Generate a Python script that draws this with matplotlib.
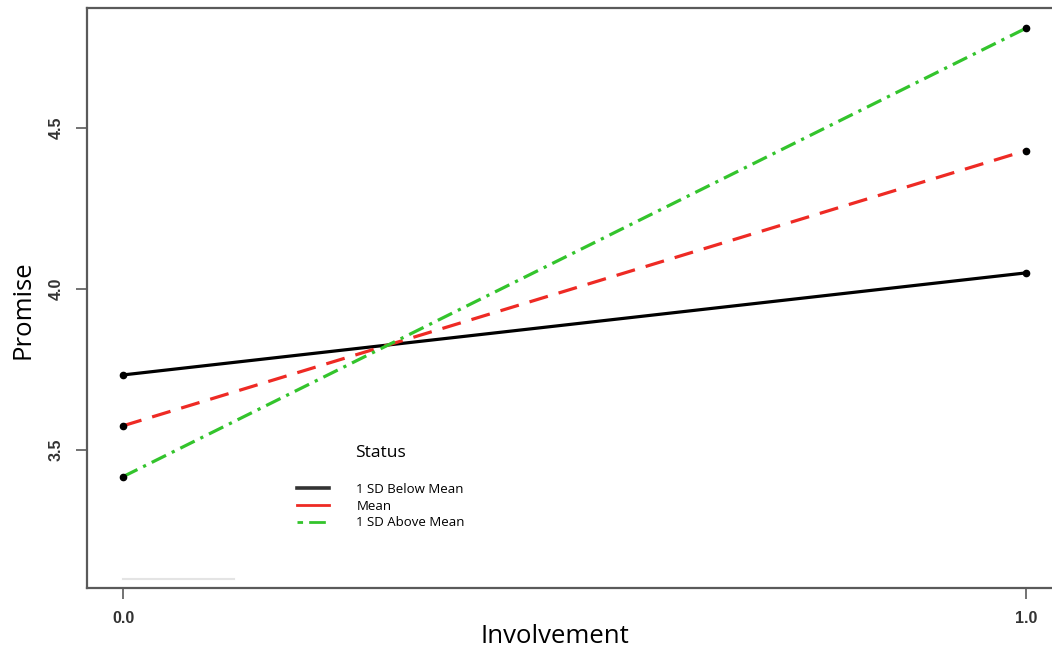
import matplotlib
matplotlib.use("Agg")
import matplotlib.pyplot as plt
from matplotlib.lines import Line2D

# simple slopes of Promise on Involvement at three levels of Status
involvement = [0.0, 1.0]
below_mean = [3.733, 4.050]
mean_level = [3.575, 4.430]
above_mean = [3.417, 4.810]
series_labels = ["1 SD Below Mean", "Mean", "1 SD Above Mean"]
x_ticks = [0.0, 1.0]
y_ticks = [3.5, 4.0, 4.5]

W, H = 1052, 656
fig = plt.figure(figsize=(W / 100, H / 100), dpi=100)
ax = fig.add_axes([87 / W, 68 / H, (1062 - 87) / W, (588 - 8) / H])

styles = [
    dict(color="black", linestyle="-"),
    dict(color="#ee2a24", linestyle=(0, (6, 3.5))),
    dict(color="#33c42c", linestyle=(0, (5, 2, 1, 2))),
]
for ys, st in zip([below_mean, mean_level, above_mean], styles):
    ax.plot(involvement, ys, linewidth=2.3, **st)
    ax.plot(involvement, ys, "o", color="black", markersize=4.5)

ax.set_xlim(-0.04, 1.04)
ax.set_ylim(3.071, 4.873)

# faint stray rule near the bottom edge
ax.plot([0.0, 0.123], [3.10, 3.10], color="#e4e4e4", linewidth=1.5)

for sp in ax.spines.values():
    sp.set_color("#5a5a5a")
    sp.set_linewidth(1.6)

tick_font = dict(fontsize=11.5, fontweight="bold", family="Liberation Sans", color="#333333")
ax.set_xticks(x_ticks)
ax.set_xticklabels([f"{v:.1f}" for v in x_ticks], **tick_font)
ax.set_yticks(y_ticks)
ax.set_yticklabels([f"{v:.1f}" for v in y_ticks], rotation=90, va="center", **tick_font)
ax.tick_params(axis="x", length=8, width=1.2, color="#5a5a5a", pad=8.5)
ax.tick_params(axis="y", length=8, width=1.2, color="#5a5a5a", pad=9)

ax.set_xlabel("Involvement", fontsize=18.5, family="Open Sans")
ax.xaxis.set_label_coords((555 - 87) / 975, (588 - 624) / 580)
ax.set_ylabel("Promise", fontsize=18.5, family="Open Sans")
ax.yaxis.set_label_coords((36 - 87) / 975, (588 - 310) / 580)

handles = [
    Line2D([], [], color="#333333", linewidth=2.6, linestyle="-"),
    Line2D([], [], color="#ee2a24", linewidth=2.0, linestyle="-"),
    Line2D([], [], color="#33c42c", linewidth=2.0, linestyle=(0, (2, 2.2, 6, 2))),
]
leg = ax.legend(handles, series_labels, title="Status", frameon=False,
                loc="upper left", bbox_to_anchor=(285 / W, 1 - 433 / H),
                bbox_transform=fig.transFigure, prop={"family": "Open Sans", "size": 9.5},
                title_fontproperties={"family": "Open Sans", "size": 12.5},
                handlelength=2.4, handletextpad=2.1, labelspacing=0.27)
leg._legend_box.align = "center"
leg._legend_box.sep = 16

fig.savefig("out.png", dpi=100)
